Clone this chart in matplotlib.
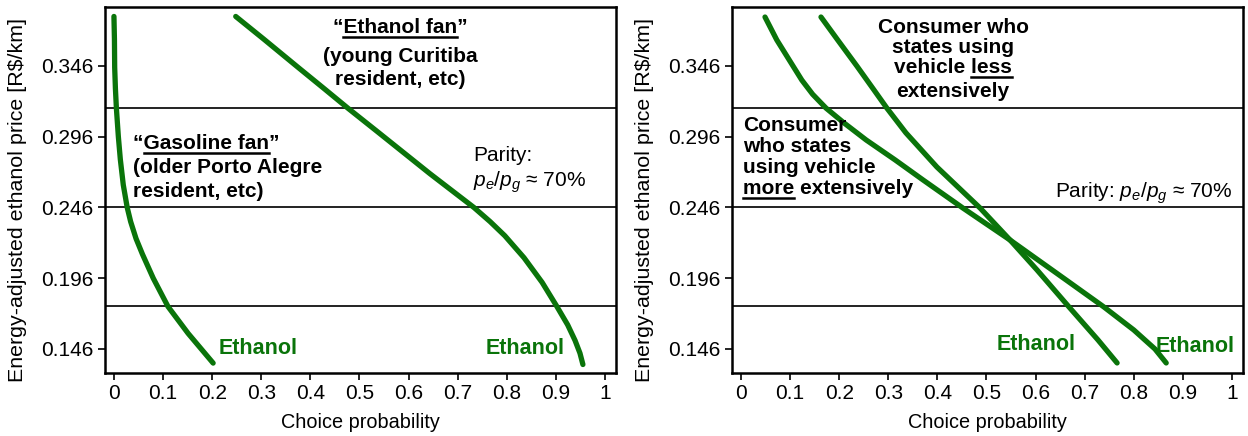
import matplotlib
matplotlib.use("Agg")
import matplotlib.pyplot as plt
from matplotlib.lines import Line2D
from matplotlib.transforms import IdentityTransform

plt.rcParams['font.family'] = ['Liberation Sans', 'DejaVu Sans']
plt.rcParams['mathtext.fontset'] = 'custom'
plt.rcParams['mathtext.rm'] = 'Liberation Sans'
plt.rcParams['mathtext.it'] = 'Liberation Sans:italic'

GREEN = '#0a740a'

# choice probability curves, price in R$/km
gas_fan_price = [0.381, 0.365, 0.345, 0.330, 0.316, 0.296, 0.280, 0.262, 0.246,
                 0.236, 0.224, 0.213, 0.196, 0.176, 0.157, 0.136]
gas_fan_prob = [0.000, 0.001, 0.0015, 0.003, 0.005, 0.009, 0.013, 0.019, 0.027,
                0.034, 0.045, 0.058, 0.080, 0.110, 0.151, 0.202]

eth_fan_price = [0.381, 0.365, 0.345, 0.330, 0.316, 0.300, 0.285, 0.270, 0.258,
                 0.246, 0.236, 0.226, 0.2105, 0.193, 0.176, 0.163, 0.152, 0.143, 0.135]
eth_fan_prob = [0.248, 0.305, 0.375, 0.428, 0.477, 0.535, 0.589, 0.643, 0.688,
                0.733, 0.766, 0.796, 0.835, 0.872, 0.902, 0.924, 0.939, 0.949, 0.955]

more_price = [0.3806, 0.3644, 0.346, 0.336, 0.326, 0.3163, 0.3057, 0.2937, 0.2796,
              0.2654, 0.2456, 0.223, 0.2089, 0.1948, 0.1757, 0.1594, 0.146, 0.1361]
more_prob = [0.049, 0.073, 0.106, 0.124, 0.146, 0.173, 0.210, 0.255, 0.314,
             0.371, 0.452, 0.548, 0.605, 0.662, 0.739, 0.800, 0.843, 0.866]

less_price = [0.3806, 0.3644, 0.346, 0.329, 0.3163, 0.2987, 0.2746, 0.2456, 0.223,
              0.2018, 0.1757, 0.1524, 0.1361]
less_prob = [0.163, 0.197, 0.236, 0.271, 0.297, 0.336, 0.399, 0.487, 0.548,
             0.603, 0.668, 0.727, 0.766]

ref_prices = [0.176, 0.246, 0.316]
price_ticks = [0.146, 0.196, 0.246, 0.296, 0.346]
prob_ticks = [0, 0.1, 0.2, 0.3, 0.4, 0.5, 0.6, 0.7, 0.8, 0.9, 1]
prob_labels = ['0', '0.1', '0.2', '0.3', '0.4', '0.5', '0.6', '0.7', '0.8', '0.9', '1']

fig = plt.figure(figsize=(12.48, 4.36), dpi=100)
ax1 = fig.add_axes([0.0841, 0.1445, 0.4095, 0.8395])
ax2 = fig.add_axes([0.5865, 0.1445, 0.4095, 0.8395])

TXT = 15


def setup(ax):
    ax.set_xlim(-0.0183, 1.0224)
    ax.set_ylim(0.129, 0.3877)
    for y in ref_prices:
        ax.axhline(y, color='#111111', lw=1.3, zorder=1)
    ax.set_xticks(prob_ticks)
    ax.set_xticklabels(prob_labels)
    ax.set_yticks(price_ticks)
    ax.set_yticklabels([f'{v:.3f}' for v in price_ticks])
    ax.tick_params(direction='out', length=5, width=1.2, labelsize=TXT, pad=3)
    for s in ax.spines.values():
        s.set_linewidth(1.8)
    ax.set_xlabel('Choice probability', fontsize=14.3)
    ax.set_ylabel('Energy-adjusted ethanol price [R$/km]', fontsize=15.4)
    ax.xaxis.set_label_coords(0.5, -0.108)
    ax.yaxis.set_label_coords(-0.152, 0.473)


def underline(ax, t, prefix, word):
    r = fig.canvas.get_renderer()
    bb = t.get_window_extent(r)
    prop = t.get_fontproperties()
    w_all = r.get_text_width_height_descent(prefix + word, prop, ismath=False)[0]
    w_word = r.get_text_width_height_descent(word, prop, ismath=False)[0]
    x0 = bb.x0 + w_all - w_word
    x1 = bb.x0 + w_all
    yb = ax.transData.transform(t.get_position())[1] - 3.5
    fig.add_artist(Line2D([x0, x1], [yb, yb], color='black', lw=1.8,
                          transform=IdentityTransform()))


def lines(ax, x, ys, texts, ha='left', marks=None):
    out = []
    for y, s in zip(ys, texts):
        out.append(ax.text(x, y, s, ha=ha, va='baseline', fontsize=TXT,
                           fontweight='bold', zorder=5))
    for i, prefix, word in (marks or []):
        underline(ax, out[i], prefix, word)


def curve(ax, x, y):
    ax.plot(x, y, color=GREEN, lw=3.8, solid_capstyle='round',
            solid_joinstyle='round', zorder=3)


setup(ax1)
setup(ax2)

# left panel: two consumer types
curve(ax1, gas_fan_prob, gas_fan_price)
curve(ax1, eth_fan_prob, eth_fan_price)

lines(ax1, 0.039, [0.2873, 0.2704, 0.2534],
      ['\u201cGasoline fan\u201d', '(older Porto Alegre', 'resident, etc)'],
      marks=[(0, '\u201c', 'Gasoline fan')])
lines(ax1, 0.583, [0.3693, 0.3488, 0.3326],
      ['\u201cEthanol fan\u201d', '(young Curitiba', 'resident, etc)'], ha='center',
      marks=[(0, '\u201c', 'Ethanol fan')])

ax1.text(0.731, 0.2789, 'Parity:', fontsize=TXT, va='baseline')
ax1.text(0.731, 0.2605, '$p_e$/$p_g$ \u2248 70%', fontsize=TXT, va='baseline')

ax1.text(0.214, 0.146, 'Ethanol', color=GREEN, fontsize=15.5, fontweight='bold',
         ha='left', va='center')
ax1.text(0.918, 0.146, 'Ethanol', color=GREEN, fontsize=15.5, fontweight='bold',
         ha='right', va='center')

# right panel: stated vehicle usage
curve(ax2, more_prob, more_price)
curve(ax2, less_prob, less_price)

lines(ax2, 0.432, [0.3693, 0.3552, 0.3410, 0.3241],
      ['Consumer who', 'states using', 'vehicle less', 'extensively'], ha='center',
      marks=[(2, 'vehicle ', 'less')])
lines(ax2, 0.004, [0.3001, 0.2852, 0.2704, 0.2555],
      ['Consumer', 'who states', 'using vehicle', 'more extensively'],
      marks=[(3, '', 'more')])

ax2.text(1.0, 0.2527, 'Parity: ' + '$p_e$/$p_g$ \u2248 70%', fontsize=TXT,
         ha='right', va='baseline')

ax2.text(0.682, 0.1488, 'Ethanol', color=GREEN, fontsize=15.5, fontweight='bold',
         ha='right', va='center')
ax2.text(1.006, 0.1475, 'Ethanol', color=GREEN, fontsize=15.5, fontweight='bold',
         ha='right', va='center')

fig.savefig('out.png', dpi=100)
